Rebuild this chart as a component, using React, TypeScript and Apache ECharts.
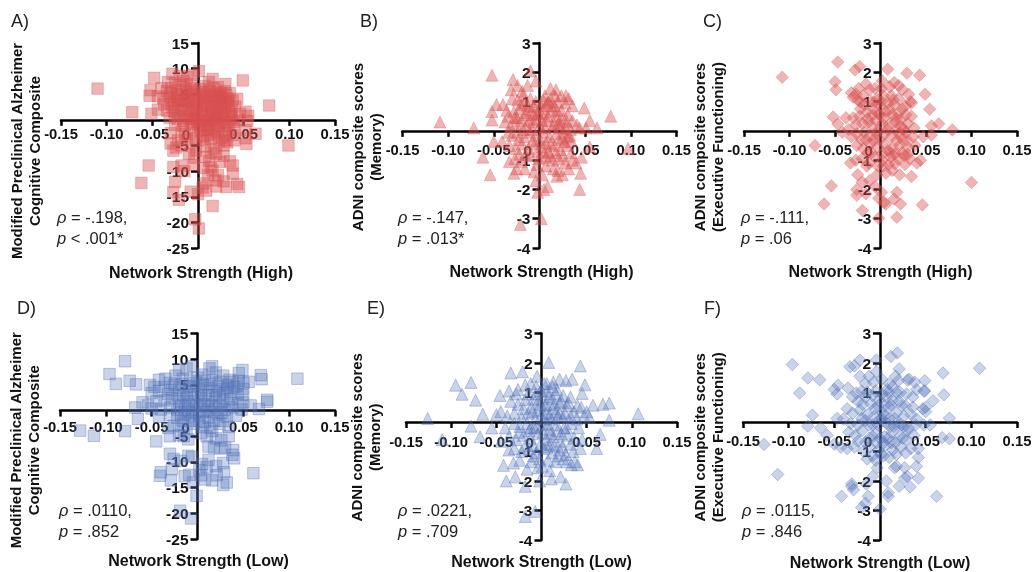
import React, { useEffect, useRef } from "react";
import * as echarts from "echarts";

const FONT = '"Liberation Sans", Arial, sans-serif';
const xTicks = { min: -0.15, max: 0.15, interval: 0.05 };

const panelA: number[][] = [
[-.11,6.1],[-.072,1.5],[-.054,-8.9],[-.062,-12.3],[-.048,8.2],[-.052,5.8],[-.053,4.7],[-.051,1.2],[.049,7.7],[.078,2.8],[.099,-5],[.055,.8],[.063,-2.7],[.053,-4.7],[.043,4.1],[.016,-16.8],[-.003,-19.4],[.001,-21.2],[.001,9.5],[.016,8],[.03,7],[.038,-8.9],[.035,-8.1],[.038,-10.5],[.043,-12.5],[.045,-13.1],[.031,-13.1],[.02,-13],[.011,-10.8],[.016,-9.9],[-.027,-14.1],[-.021,-15.6],[-.025,-12.1],[-.027,-9.2],[-.018,-8.9],[-.027,-6],[-.008,-14],[0,-14.5],[.005,-13.2],[.009,-13.8],
[-.028,9],[-.02,8.6],[-.012,8.4],[-.006,8.8],[-.033,7.4],[-.025,7.2],[-.016,7.6],[-.008,7],[.008,6.6],[.022,6.4],[.012,7.4],[-.04,6.2],[-.034,5.6],[-.029,6.2],[-.021,5.8],[-.013,6],[-.004,5.8],[.004,5.4],[.013,5.6],[.021,5.4],[.029,5.6],[.035,5.2],[-.044,4.6],[-.038,4.2],[-.031,4.6],[-.024,4.4],[-.017,4.8],[-.01,4.2],[-.002,4.6],[.006,4.2],[.016,4.4],[.024,4.6],[.032,4.2],[.038,3.8],[-.037,3],[-.03,3.2],[-.022,3],[-.014,3.4],[-.006,3],[.002,3.2],[.01,2.8],[.018,3.2],[.026,3],[.034,2.8],[.041,2.6],[-.044,2],[-.034,1.8],[-.026,1.6],[-.018,2],[-.011,1.6],[-.002,1.8],[.006,1.4],[.014,1.8],[.022,1.6],[.03,1.4],[.037,1.6],[.046,1.2],[.052,1.6],[-.031,.4],[-.022,.2],[-.013,.6],[-.004,.2],[.004,.6],[.012,.2],[.02,.4],[.028,.2],[.036,.4],[.044,0],[.054,-.2],
[-.025,-1],[-.016,-1.2],[-.008,-.8],[0,-1.4],[.008,-1],[.016,-1.4],[.024,-1],[.032,-1.2],[.04,-1.6],[.052,-2],[-.03,-2.6],[-.018,-2.4],[-.005,-2.6],[.003,-2.2],[.011,-2.8],[.02,-2.4],[.029,-2.6],[.038,-3],[.052,-3.6],[-.022,-4],[-.012,-3.8],[.005,-4],[.014,-3.8],[.023,-4.2],[.032,-4.4],[.04,-4],[-.03,-4.6],[-.024,-5.4],[-.008,-5],[.008,-5.2],[.018,-5.6],[.028,-5],[.02,-6.6],[.028,-7],[.008,-7.2],[-.004,-7.4],[.012,-8],[.024,-8.2],[.006,-9.4],[-.01,-6.6],[-.015,-10],[.014,-9.2],[.022,-10.8],[.019,-11.8],[.028,-12],[.006,-12.4],[-.005,-8.8],
[-.022,3.8],[-.008,5],[.018,5],[.026,4.2],[.03,3.4],[-.016,2.6],[.004,1],[.018,.2],[.01,-.4],[-.002,.8],[.024,2.4],[.014,3.6],[-.028,2.4],[.034,.8],[.026,-.2],[.012,-1.8],[.034,-2],[.02,1],[-.006,1.2],[-.012,3.6],
[-.03,5.2],[-.026,3.6],[-.023,5],[-.019,6.8],[-.015,4],[-.011,5.4],[-.009,2.2],[-.007,6.2],[-.003,3.8],[-.001,2.4],[.001,4],[.003,6],[.005,2.8],[.007,5],[.009,3.6],[.011,4.8],[.012,1.2],[.015,2.4],[.017,6.2],[.019,4],[.021,2.6],[.023,3.8],[.025,5.2],[.027,1],[.029,2.2],[.031,4.8],[.033,3.6],[.036,1.2],[-.025,1],[-.02,.8],[-.016,-.2],[-.009,.2],[-.006,-.4],[-.001,-.2],[.006,-.1],[.014,-.2],[.016,.8],[.021,-.6],[.03,-.6],[.039,-.4],[.002,-1],[.01,-2],[.018,-3],[.026,-3.4],[.006,-3.2],[-.002,-3.6],[-.014,-2.8],[.022,-1.8],[.03,-4],[-.018,-5],[.014,-6.4],[-.002,-6]
];
const panelB: number[][] = [
[-.109,.3],[-.072,.1],[-.052,1.9],[-.01,2.05],[-.052,.37],[-.052,.66],[-.047,.9],[-.062,-.9],[-.054,-1.5],[-.05,-.36],[-.041,-.36],[-.029,1.75],[-.031,1.4],[-.024,1.55],[-.013,1.55],[-.004,1.7],[.002,-3],[-.021,-3.2],[.044,-2],[.045,-1.45],[.046,-.9],[.078,.5],[.049,.78],[.055,.35],[.063,.1],[.055,-.55],[.097,-.6],[-.002,-2.1],[.009,-1.9],[.005,-2],[-.004,-1.7],[.003,-1.5],[-.006,-1.4],
[.012,1.45],[.018,1.4],[.024,1.2],[.029,1.2],[.032,1.1],[.006,1.2],[.012,1.1],[.02,1],[.028,.95],[.036,.85],[-.04,.9],[-.036,.7],[-.03,1.1],[-.024,1.05],[-.018,1.2],[-.01,1.1],[-.004,1],[-.034,.5],[-.028,.65],[-.022,.75],[-.016,.55],[-.009,.7],[-.002,.6],[.005,.75],[.012,.65],[.018,.5],[.024,.7],[.031,.55],[.036,.35],[.041,.2],[-.038,.3],[-.032,.15],[-.026,.25],[-.02,.35],[-.014,.2],[-.007,.3],[0,.15],[.008,.35],[.014,.15],[.021,.25],[.028,.1],[.034,.05],[.044,.1],[.051,.1],[-.03,-.15],[-.024,-.05],[-.017,-.2],[-.011,-.05],[-.004,-.15],[.004,-.05],[.011,-.2],[.018,-.1],[.025,-.25],[.031,-.2],
[-.033,-.5],[-.026,-.6],[-.019,-.45],[-.012,-.6],[-.005,-.45],[.003,-.55],[.01,-.7],[.016,-.5],[.023,-.65],[.03,-.5],[.035,-.75],[-.027,-.95],[-.02,-1.05],[-.01,-.85],[-.001,-.95],[.007,-.9],[.014,-1],[.021,-.95],[.028,-1.1],[.036,-1],[.04,-1.1],[-.033,-1.05],[-.025,-1.3],[-.016,-1.3],[.015,-1.3],[.02,-1.35],[.025,-1.5],[.032,-1.3],[-.028,-1.45],[.019,-1.55],[.007,-1.2],[-.003,-1.15],
[-.02,.9],[.003,.35],[.016,.85],[.008,.95],[-.013,.85],[.022,.35],[.035,-.35],[-.034,-.05],[-.008,.05],[.012,-.45],[.005,-.75],[.026,-.85],[-.022,-.8],[.001,.85],[-.027,.45],[.027,-.05],[.017,1.2],[-.019,1.35],
[-.025,.45],[-.018,.05],[-.014,.62],[-.011,.38],[-.006,.82],[-.003,.42],[.002,.58],[.006,.1],[.009,.5],[.013,.85],[.016,.25],[.019,.7],[.022,.1],[.026,.42],[.03,.3],[-.023,-.3],[-.015,-.82],[-.008,-.35],[-.002,-.7],[.001,-.3],[.007,-.4],[.012,-.85],[.018,-.75],[.021,-.3],[.027,-.38],[.033,-.15],[-.017,.95],[.01,1],[-.006,.55],[.004,1.05]
];
const panelC: number[][] = [
[-.108,1.83],[-.047,2.35],[-.05,1.68],[-.049,1.4],[-.023,2.2],[-.028,2.08],[.008,2.1],[.029,1.97],[.043,1.9],[.049,1.25],[.054,.74],[.064,.24],[.079,.03],[.056,.17],[.056,-.14],[-.072,-.5],[-.052,.47],[-.047,.23],[-.054,-1.88],[-.062,-2.5],[.1,-1.76],[.046,-2.53],[.018,-2.95],[-.02,-2.72],[-.002,-2.98],[.022,-2.5],[.018,-2.1],[.015,-2.33],[.006,-2.5],[.034,-1.56],
[-.032,1.3],[-.027,1.25],[-.024,1.45],[-.03,1.15],[-.019,1.2],[-.025,1.05],[-.012,1.4],[-.006,1.45],[.002,1.7],[.01,1.5],[.015,1.65],[.02,1.55],[.024,1.4],[.031,1.25],[.033,1.0],[.034,.95],[.012,1.2],[.02,1.1],[.027,.85],[.015,.9],[-.018,.9],[-.01,1],[-.004,1.1],[.003,1.2],[-.015,.65],[-.008,.75],[0,.85],[.006,.65],[.013,.55],[.02,.6],[.028,.55],[.034,.5],[-.03,.45],[-.038,.45],[-.023,.5],[-.027,.2],[-.02,.25],[-.013,.3],[-.005,.35],[.002,.25],[.009,.2],[.016,.3],[.023,.15],[.03,.25],[.037,.1],[-.035,.05],[-.042,-.05],[-.032,-.2],[-.026,-.1],[-.018,-.05],[-.011,-.15],[-.003,0],[.005,-.1],[.012,-.2],[.02,-.1],[.028,-.05],[.036,-.2],[.047,-.2],
[-.026,-.5],[-.019,-.6],[-.011,-.45],[-.003,-.55],[.005,-.45],[.013,-.6],[.021,-.5],[.03,-.55],[.038,-.5],[-.033,-1.1],[-.027,-1],[-.02,-.95],[-.013,-1.1],[-.006,-.9],[.002,-1],[.011,-.9],[.019,-.95],[.026,-.85],[.032,-.95],[.04,-1.1],[.044,-1],[-.015,-1.2],[-.004,-1.5],[.006,-1.45],[.013,-1.35],[.021,-1.5],[.027,-1.15],[-.025,-1.5],[-.02,-1.75],[-.026,-2],[-.026,-2.2],[-.016,-2.15],[-.006,-1.9],[.001,-2.1],[-.002,-2.3],[.004,-2.45],[-.012,-1.7],
[-.016,1.6],[.008,.95],[-.022,.75],[.024,.75],[-.008,.55],[.011,-.75],[.024,-.75],[-.016,-.3],[.03,-.8],[.018,.05],[-.001,.55],
[-.022,.98],[-.014,.42],[-.009,.12],[-.006,.98],[-.002,.58],[.001,1],[.004,.45],[.008,.05],[.01,.72],[.014,1.05],[.017,.42],[.022,.38],[.025,.05],[-.021,-.3],[-.014,-.75],[-.008,-.32],[-.001,-.3],[.002,-.78],[.008,-.68],[.016,-.78],[.018,-.32],[.024,-.28],[.029,-.3],[-.003,-1.2],[.003,-1.2],[.009,-1.15],[.016,-1.12],[-.01,-.75],[-.004,-.1],[.001,1.45]
];
const panelD: number[][] = [
[-.079,9.6],[-.096,7.1],[-.089,5.2],[-.074,5.8],[-.067,5.1],[-.128,-3.9],[-.113,-4.9],[-.079,-4],[-.045,-6],[.109,6.2],[.069,6.9],[.07,6.1],[.049,7.9],[.045,7.3],[.076,2.1],[.076,1.7],[.067,.3],[.061,-12.2],[.032,-14],[.028,-14.5],[-.001,-16.6],[-.019,-19.5],[-.007,-21],[-.041,-12.7],[-.04,-12],[-.029,-13.6],[-.005,8.6],[.016,8.6],[.013,8.2],[.039,-7.7],[.04,-9.3],[.038,-8.6],
[-.02,7.9],[-.012,8.2],[.005,7],[.02,7.4],[.028,6.8],[.035,6],[.045,5.8],[.05,5.4],[.056,5.6],[.043,4.8],[.05,4.2],[.049,3],[.05,1.6],[.058,1],[-.052,5],[-.047,4.6],[-.042,6],[-.035,6.2],[-.03,5.4],[-.024,6.8],[-.016,6.2],[-.008,5.8],[0,6.4],[.008,5.8],[.016,6],[.024,5.6],[.032,5],[.038,5.6],[-.05,3.4],[-.042,3.8],[-.036,4.6],[-.028,4],[-.02,4.4],[-.012,3.8],[-.004,4.6],[.004,4],[.012,4.4],[.02,3.8],[.028,4.2],[.036,3.6],[.044,3.2],[-.06,1.6],[-.054,1],[-.068,.6],[-.045,1.8],[-.036,2],[-.028,2.4],[-.02,1.8],[-.012,2.4],[-.004,1.8],[.004,2.4],[.012,1.8],[.02,2.4],[.028,1.8],[.036,2.2],[.044,1.4],[-.05,.4],[-.04,.2],[-.03,.6],[-.022,.2],[-.014,.6],[-.005,.2],[.003,.8],[.012,.2],[.02,.6],[.03,.2],[.038,.6],[.048,.2],
[-.065,-1.6],[-.042,-1.2],[-.03,-.8],[-.022,-1.4],[-.014,-.8],[-.006,-1.2],[.002,-.8],[.012,-1.4],[.022,-.8],[.032,-1.2],[.042,-1],[-.032,-3.4],[-.026,-3],[-.018,-2.8],[-.012,-3.6],[-.004,-2.6],[.006,-3.2],[.014,-3.4],[.024,-2.6],[.034,-3.2],[-.03,-5],[-.02,-4.8],[-.01,-5.6],[-.015,-5],[.01,-5],[.02,-5.4],[.026,-5.8],[.034,-5],[.012,-7],[.018,-7.2],[.025,-7.4],[.03,-7.2],[-.03,-8.4],[-.026,-9.4],[-.01,-8.8],[-.006,-9],[.005,-10.4],[.01,-11],[.02,-10.8],[.028,-10.2],[-.018,-9.8],[-.028,-11.4],[-.014,-12.8],[-.009,-12.5],[.002,-11.6],[.008,-13.4],[.016,-13.6],[.021,-12.6],[.029,-12],[-.005,-14],[.004,-12.6],[.012,-9.6],
[-.032,3.2],[-.025,5],[-.022,3],[-.017,5.2],[-.015,3],[-.009,4.8],[-.007,3],[-.002,5.4],[.001,3.2],[.006,5],[.009,3],[.014,5.2],[.016,3],[.022,4.8],[.024,3],[.03,3.4],[.033,4.4],[.04,4.6],[-.018,1],[-.01,1.2],[-.001,1],[.007,1.2],[.016,1],[.024,1],[.034,1],[-.018,-.4],[-.01,-.2],[-.002,-.4],[.007,-.2],[.016,-.3],[.026,-.4],[-.016,-2],[-.008,-2],[.002,-2],[.008,-2.2],[.018,-2],[.028,-2],[.016,-4],[.004,-4.4]
];
const panelE: number[][] = [
[-.126,.12],[-.11,-.6],[-.095,1.25],[-.088,.94],[-.078,1.34],[-.073,.74],[-.078,-.14],[-.068,-.5],[-.065,.26],[-.055,-.2],[-.034,1.66],[-.021,1.7],[.008,2.02],[.043,1.9],[.048,1.26],[.045,.97],[.075,.64],[.068,.6],[.057,.57],[.107,.28],[.075,.06],[.065,-.42],[.061,-.9],[-.007,-3.03],[-.018,-3.2],[.027,-2.1],[.011,-1.93],[-.002,-2],[-.018,-2.18],[-.039,-2],[-.029,-1.86],[.021,-1.86],[-.042,-1.47],[-.031,-1.39],[-.016,-1.6],[.04,-1.45],[.033,-1.45],
[-.046,.9],[-.036,1.05],[-.026,1.1],[-.018,1.25],[-.012,1.3],[-.005,1.55],[.003,1.3],[.012,1.2],[.02,1.45],[.027,1.4],[.034,1.45],[.013,1.35],[.006,1.05],[-.006,.95],[.016,.95],[.024,.9],[.032,.85],[.04,.55],[-.034,.7],[-.026,.6],[-.018,.75],[-.011,.5],[-.003,.75],[.005,.6],[.012,.8],[.02,.65],[.028,.55],[.036,.35],[.044,.5],[.05,.35],[-.05,.25],[-.045,.35],[-.038,.2],[-.03,.3],[-.022,.15],[-.015,.3],[-.007,.1],[.001,.3],[.009,.2],[.016,.35],[.024,.15],[.032,.2],[.039,.1],[.047,.2],[.053,.15],[-.04,-.2],[-.03,-.05],[-.024,-.15],[-.016,-.05],[-.008,-.2],[.001,-.1],[.009,-.25],[.017,-.1],[.025,-.2],[.033,-.05],[.041,-.2],[-.045,-.65],[-.036,-.5],[-.028,-.6],[-.02,-.45],[-.012,-.55],[-.004,-.4],[.005,-.6],[.013,-.5],[.021,-.65],[.029,-.45],[.036,-.55],[.045,-.6],
[-.036,-.95],[-.03,-.9],[-.022,-1],[-.014,-.9],[-.006,-1.05],[.003,-.9],[.012,-1.05],[.02,-.95],[.027,-1.1],[.035,-1],[.043,-.9],[-.024,-1.3],[-.011,-1.35],[-.002,-1.25],[.007,-1.3],[.016,-1.35],[.024,-1.25],[.037,-1.35],[.009,-1.65],[-.004,-1.55],[.012,.45],[.017,1.1],[.02,.3],[-.01,.35],[-.002,.6],[.007,-.05],[.022,-.4],[.01,-.75],
[-.028,.95],[-.02,.45],[-.015,.95],[-.012,-.2],[-.009,.8],[-.006,1.2],[-.004,.4],[-.001,1.05],[.002,.95],[.004,.55],[.006,1.3],[.008,.85],[.011,.1],[.014,.6],[.018,.2],[.022,.7],[.026,.3],[.03,.65],[-.025,-.35],[-.018,-.8],[-.014,-.3],[-.009,-.8],[-.005,-.15],[-.001,-.75],[.002,-.35],[.006,-.85],[.01,-.4],[.014,-.8],[.018,-.3],[.023,-.85],[.028,-.2],[.032,-.75],[.002,.1],[.005,.3],[.018,-1.15],[-.009,-1.15],[.001,-1.5],[.028,-1.35]
];
const panelF: number[][] = [
[-.096,1.95],[-.079,1.49],[-.066,1.43],[-.088,.98],[-.074,.23],[-.079,-.14],[-.065,-.2],[-.127,-.76],[-.112,-1.78],[-.042,-2.52],[.062,-2.52],[.109,1.82],[.069,1.66],[.07,.92],[.058,.72],[.076,.13],[.068,-.53],[.076,-.57],[.019,2.34],[.012,2.22],[-.004,2.1],[-.022,2.1],[-.033,1.87],[-.028,1.9],[.021,1.8],[.032,1.45],[.03,1.42],[.049,1.4],[.049,1.05],[0,-2.95],[-.016,-2.75],[-.013,-2.52],[.009,-2.52],[.009,-2.4],[-.031,-2.18],[-.029,-2.3],[.021,-2.18],[.033,-2.2],[.042,-1.9],[.027,-1.9],
[-.05,1.1],[-.046,1.25],[-.047,.95],[-.035,1.15],[-.022,1.55],[-.012,1.55],[-.004,1.7],[-.016,1.3],[-.007,1.35],[.002,1.45],[.01,1.3],[.017,1.55],[.014,1.2],[.022,1],[.029,.95],[.036,.85],[.04,1.1],[.048,1.05],[.038,1.35],[-.03,.85],[-.024,.7],[-.016,.85],[-.008,.9],[-.001,.75],[.007,.85],[.014,.75],[.021,.7],[.028,.55],[.036,.5],[.047,.45],[.05,.35],[.05,.5],[-.036,.45],[-.03,.3],[-.022,.4],[-.014,.25],[-.006,.45],[.003,.3],[.01,.5],[.018,.3],[.026,.2],[.034,.25],[.04,.1],[-.047,.12],[-.04,.1],[-.032,-.05],[-.024,-.1],[-.016,.05],[-.008,-.1],[0,.1],[.007,-.05],[.015,-.15],[.023,-.1],[.031,-.2],[.039,-.1],[.048,-.1],[.055,-.1],
[-.058,-.45],[-.05,-.75],[-.043,-.85],[-.034,-.35],[-.027,-.45],[-.02,-.3],[-.012,-.55],[-.004,-.35],[.005,-.5],[.013,-.35],[.021,-.5],[.029,-.6],[.037,-.45],[-.036,-.9],[-.028,-.85],[-.018,-1],[-.011,-.85],[-.002,-.95],[.006,-.8],[.014,-.95],[.023,-.85],[.028,-1.05],[.034,-.9],[.042,-.9],[-.014,-1.25],[-.005,-1.3],[.004,-1.15],[.016,-1.55],[.018,-1.5],[.027,-1.55],[.04,-1.5],[.042,-1.2],[-.003,-1.55],[-.008,-1.85],[-.015,-2.1],[.007,-2],[.03,-1.85],[-.031,-2.1],[-.02,-2.9],[.01,.1],[.02,1.4],[.03,-.3],[-.02,1.05],[.008,1.1],
[-.026,.98],[-.019,.6],[-.014,1],[-.01,.62],[-.005,1.05],[-.002,.55],[.002,.95],[.005,.55],[.009,1],[.012,.58],[.018,1],[.024,.55],[-.02,.12],[-.012,-.1],[-.006,.2],[-.002,-.1],[.002,.12],[.005,.2],[.011,-.15],[.016,.12],[.02,-.1],[.026,-.15],[-.024,-.65],[-.016,-.7],[-.008,-.5],[-.004,-.7],[0,-.55],[.004,-.7],[.009,-.55],[.012,-.7],[.017,-.7],[.025,-.55],[-.008,-1.15],[.001,-1.1],[.01,-1.2],[.018,-1.1]
];

const RED = { fill: "rgba(216,78,78,0.42)", border: "rgba(214,84,84,0.32)" };
const BLUE = { fill: "rgba(88,118,188,0.32)", border: "rgba(80,110,180,0.36)" };

const layout = [
  { key: "A)", data: panelA, sym: "rect", size: 11.5, color: RED, left: 61, right: 335, top: 43, bottom: 248, yMin: -25, yMax: 15, yInt: 5, lm: 6.5, xGap: 145, xShift: 6, yGap: 155, yShift: 11, zeroUp: 8, letter: [11, 21], rhoPos: [57, 216],
    yName: "Modified Preclinical Alzheimer\nCognitive Composite", xName: "Network Strength (High)", rho: "= -.198,", p: "< .001*" },
  { key: "B)", data: panelB, sym: "triangle", size: 12, color: RED, left: 402.5, right: 676.5, top: 43, bottom: 248, yMin: -4, yMax: 3, yInt: 1, lm: 11.5, xGap: 133, xShift: 4, yGap: 155, yShift: 3, zeroUp: 14, letter: [360, 21], rhoPos: [398, 216],
    yName: "ADNI composite scores\n(Memory)", xName: "Network Strength (High)", rho: "= -.147,", p: "= .013*" },
  { key: "C)", data: panelC, sym: "diamond", size: 12.5, color: RED, left: 744, right: 1017, top: 43, bottom: 248, yMin: -4, yMax: 3, yInt: 1, lm: 11.5, xGap: 133, xShift: 0, yGap: 154, yShift: 3, zeroUp: 14, letter: [703, 21], rhoPos: [741, 216],
    yName: "ADNI composite scores\n(Executive Functioning)", xName: "Network Strength (High)", rho: "= -.111,", p: "= .06" },
  { key: "D)", data: panelD, sym: "rect", size: 11.5, color: BLUE, left: 60, right: 335, top: 333.5, bottom: 539, yMin: -25, yMax: 15, yInt: 5, lm: 8.5, xGap: 142, xShift: 2, yGap: 155, yShift: 8, zeroUp: 12, letter: [17, 308], rhoPos: [59, 509],
    yName: "Modified Preclinical Alzheimer\nCognitive Composite", xName: "Network Strength (Low)", rho: "= .0110,", p: "= .852" },
  { key: "E)", data: panelE, sym: "triangle", size: 12, color: BLUE, left: 406, right: 677, top: 333.5, bottom: 540, yMin: -4, yMax: 3, yInt: 1, lm: 12.5, xGap: 131, xShift: 0, yGap: 158, yShift: 1, zeroUp: 12, letter: [367, 308], rhoPos: [398, 509],
    yName: "ADNI composite scores\n(Memory)", xName: "Network Strength (Low)", rho: "= .0221,", p: "= .709" },
  { key: "F)", data: panelF, sym: "diamond", size: 12.5, color: BLUE, left: 743, right: 1017, top: 333.5, bottom: 540, yMin: -4, yMax: 3, yInt: 1, lm: 11.5, xGap: 132, xShift: 0, yGap: 154, yShift: 1, zeroUp: 14, letter: [704, 308], rhoPos: [742, 509],
    yName: "ADNI composite scores\n(Executive Functioning)", xName: "Network Strength (Low)", rho: "= .0115,", p: "= .846" },
];

const LINE = { show: true, onZero: false, lineStyle: { color: "#000", width: 2.5 } };
const TICK = { show: true, length: 6, lineStyle: { color: "#000", width: 2.5 } };

export default function App() {
  const ref = useRef<HTMLDivElement>(null);
  useEffect(() => {
    document.body.style.margin = "0";
    document.body.style.background = "#fff";
    const chart = echarts.init(ref.current!, undefined, { renderer: "svg" });
    chart.setOption({
      animation: false,
      backgroundColor: "#fff",
      grid: layout.map((p) => ({ left: p.left, top: p.top, width: p.right - p.left, height: p.bottom - p.top, containLabel: false, outerBoundsMode: "none" })),
      xAxis: layout.map((p, i) => {
        const h = p.bottom - p.top;
        const toBottom = (-p.yMin / (p.yMax - p.yMin)) * h; // distance from the grid's bottom edge up to y = 0
        return {
          type: "value", gridIndex: i, position: "bottom", offset: -toBottom, ...xTicks,
          axisLine: LINE, axisTick: TICK, splitLine: { show: false },
          name: p.xName, nameLocation: "middle", nameGap: p.xGap, nameMoveOverlap: false,
          nameTextStyle: { fontFamily: FONT, fontWeight: "bold", fontSize: 16, color: "#111", padding: [0, 0, 0, p.xShift] },
          axisLabel: {
            show: true, margin: p.lm, color: "#111", fontFamily: FONT, fontWeight: "bold", fontSize: 14.8, hideOverlap: false,
            showMinLabel: true, showMaxLabel: true,
            formatter: (v: number) => (Math.abs(v) < 1e-9 ? "{z|0}" : v.toFixed(2)),
            rich: { z: { padding: [0, 24, p.zeroUp, 0], color: "#111", fontFamily: FONT, fontWeight: "bold", fontSize: 15.5 } },
          },
        };
      }),
      yAxis: layout.map((p, i) => ({
        type: "value", gridIndex: i, position: "left", offset: -(p.right - p.left) / 2, min: p.yMin, max: p.yMax, interval: p.yInt,
        axisLine: LINE, axisTick: { ...TICK, length: 7 }, splitLine: { show: false },
        name: p.yName, nameLocation: "middle", nameGap: p.yGap, nameMoveOverlap: false, nameRotate: 90,
        nameTextStyle: { fontFamily: FONT, fontWeight: "bold", fontSize: 15, lineHeight: 18, color: "#111", align: "center", padding: [0, p.yShift, 0, 0] },
        axisLabel: {
          show: true, margin: 9, color: "#111", fontFamily: FONT, fontWeight: "bold", fontSize: 15.5, hideOverlap: false,
          showMinLabel: true, showMaxLabel: true,
          formatter: (v: number) => (v === 0 ? "" : String(v)),
        },
      })),
      series: layout.map((p, i) => ({
        type: "scatter", xAxisIndex: i, yAxisIndex: i, data: p.data, symbol: p.sym, symbolSize: p.size,
        itemStyle: { color: p.color.fill, borderColor: p.color.border, borderWidth: 1, opacity: 1 },
        emphasis: { disabled: true }, silent: true, z: 5,
      })),
      graphic: layout.flatMap((p) => [
        { type: "text", x: p.letter[0], y: p.letter[1], style: { text: p.key, fontFamily: FONT, fontSize: 18, fill: "#222", verticalAlign: "middle" } },
        { type: "text", x: p.rhoPos[0], y: p.rhoPos[1] - 10, style: {
            text: `{i|ρ} ${p.rho}\n{i|p} ${p.p}`, fontFamily: FONT, fontSize: 16.5, lineHeight: 21.5, fill: "#222",
            rich: { i: { fontStyle: "italic", fontFamily: FONT, fontSize: 16.5, lineHeight: 21.5, fill: "#222" } },
          } },
      ]),
    });
    return () => chart.dispose();
  }, []);
  return <div ref={ref} style={{ width: 1032, height: 572, filter: "blur(0.4px)" }} />;
}
